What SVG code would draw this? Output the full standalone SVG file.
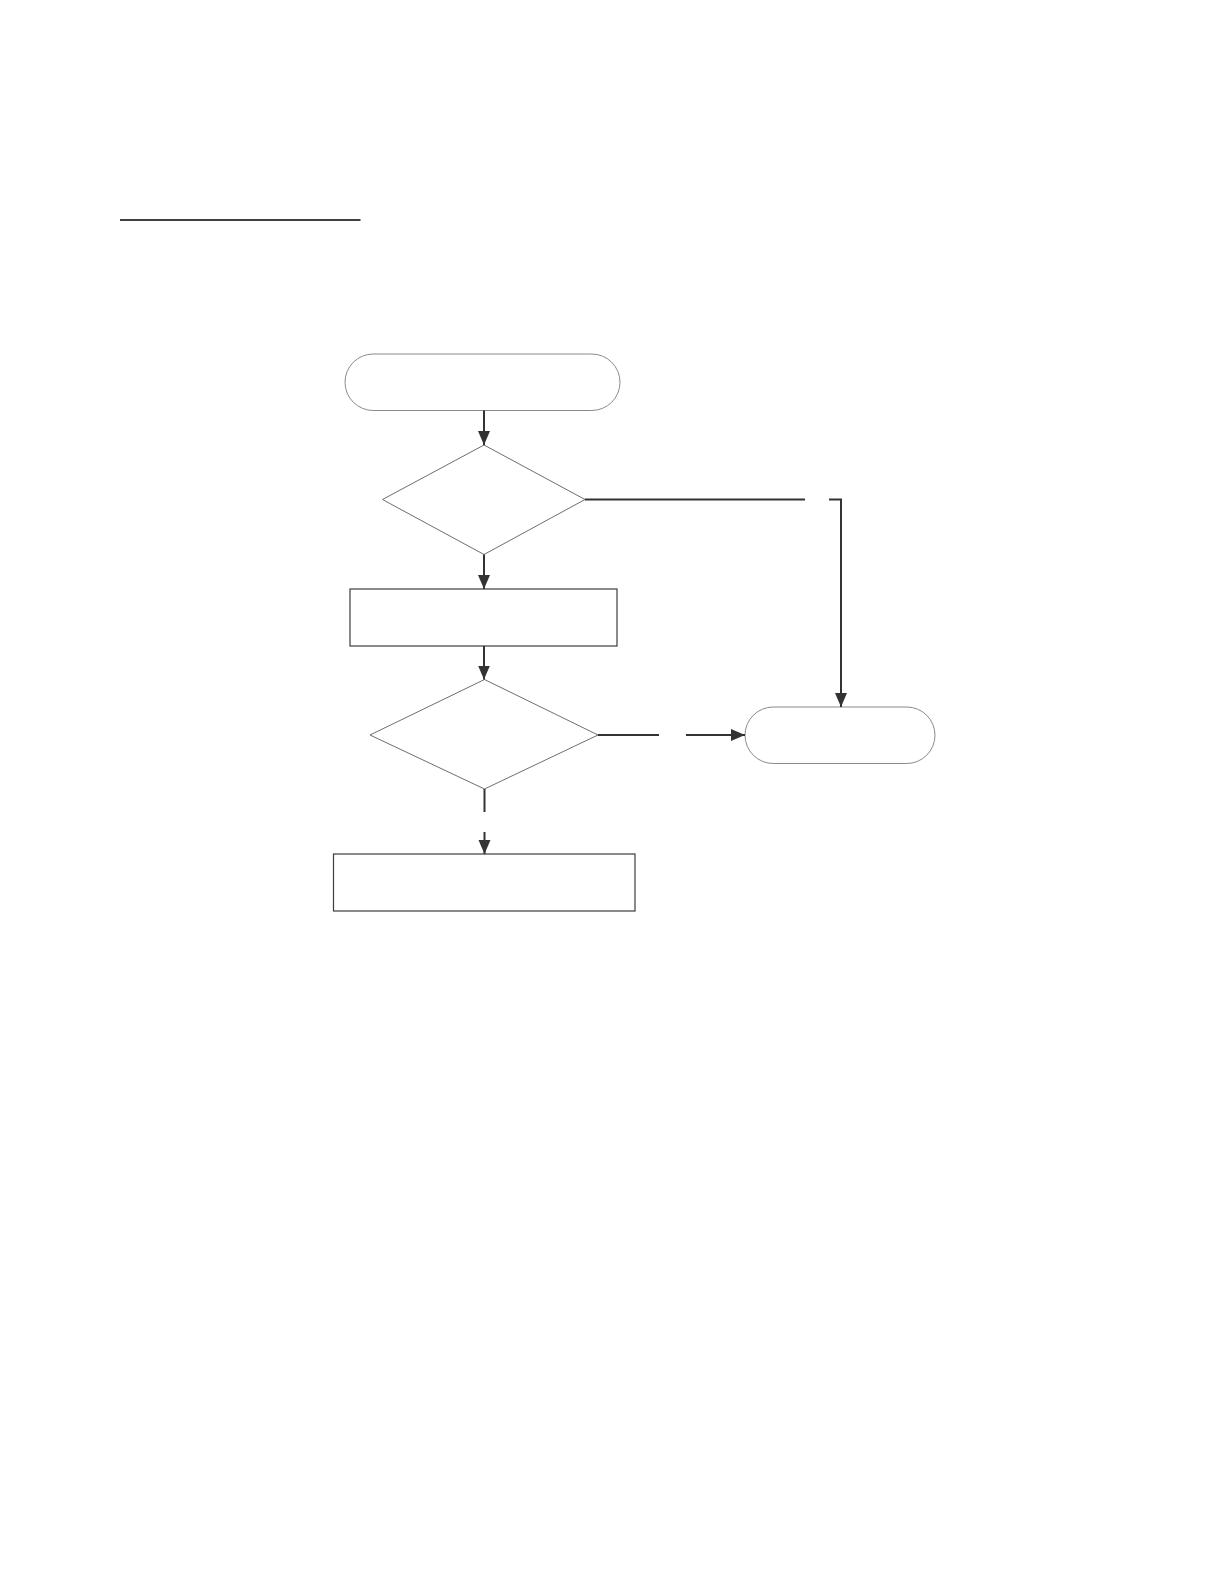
<svg xmlns="http://www.w3.org/2000/svg" width="1224" height="1584" viewBox="0 0 1224 1584">
  <style>
    .term { fill: #ffffff; stroke: #8a8a8a; stroke-width: 1; }
    .dia { fill: #ffffff; stroke: #6e6e6e; stroke-width: 1; }
    .box { fill: #ffffff; stroke: #3c3c3c; stroke-width: 1.2; }
    .conn { fill: none; stroke: #333333; stroke-width: 2; }
  </style>
  <defs>
    <marker id="arrow" markerUnits="userSpaceOnUse" markerWidth="14" markerHeight="14" viewBox="0 0 14 14" refX="14" refY="7" orient="auto">
      <path d="M0,1 L14,7 L0,13 z" fill="#333333"/>
    </marker>
  </defs>
  <rect x="0" y="0" width="1224" height="1584" fill="#ffffff"/>
  <line x1="120" y1="220" x2="360.5" y2="220" stroke="#000000" stroke-width="1.5"/>

  <g id="start"><rect class="term" x="345" y="354" width="275" height="56.5" rx="28.25" ry="28.25"/></g>
  <g id="decision1"><polygon class="dia" points="484,445 585,499.5 484,554.5 382.5,499.5"/></g>
  <g id="process1"><rect class="box" x="350" y="589" width="267" height="57"/></g>
  <g id="decision2"><polygon class="dia" points="484.5,679.5 598,735 484.5,789 370,735"/></g>
  <g id="end"><rect class="term" x="745" y="707" width="190" height="56.5" rx="28.25" ry="28.25"/></g>
  <g id="process2"><rect class="box" x="333.5" y="854" width="301.5" height="57"/></g>

  <g id="connectors">
    <line class="conn" x1="484" y1="410.5" x2="484" y2="445" marker-end="url(#arrow)"/>
    <line class="conn" x1="484" y1="554.5" x2="484" y2="589" marker-end="url(#arrow)"/>
    <line class="conn" x1="484" y1="646" x2="484" y2="679.5" marker-end="url(#arrow)"/>
    <line class="conn" x1="585" y1="499.5" x2="805" y2="499.5"/>
    <polyline class="conn" points="829,499.5 841,499.5 841,707" marker-end="url(#arrow)"/>
    <line class="conn" x1="598" y1="735" x2="659" y2="735"/>
    <line class="conn" x1="686" y1="735" x2="745" y2="735" marker-end="url(#arrow)"/>
    <line class="conn" x1="484.5" y1="789" x2="484.5" y2="812"/>
    <line class="conn" x1="484.5" y1="832" x2="484.5" y2="854" marker-end="url(#arrow)"/>
  </g>
</svg>
